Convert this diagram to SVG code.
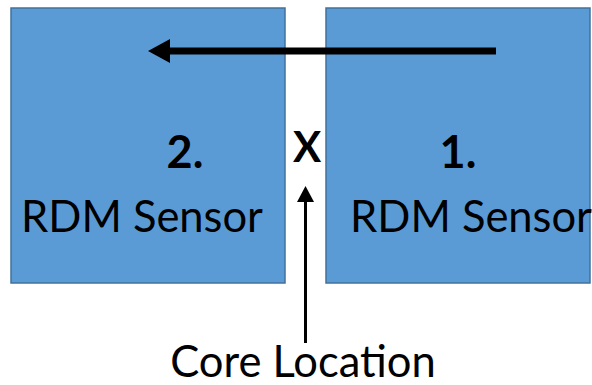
<svg xmlns="http://www.w3.org/2000/svg" width="592" height="385" viewBox="0 0 592 385">
<style>
.box{fill:#5B9BD5;stroke:#41719C;stroke-width:1.5}
.t{font-family:Lato,"Open Sans",sans-serif;fill:#000;text-anchor:middle}
.lbl{font-size:43.5px}
.num{font-size:45px;font-weight:bold}
.x{font-size:42px;font-weight:bold}
.ln{stroke:#000;fill:none}
</style>
<rect width="592" height="385" fill="#fff"/>
<g id="sensor2">
<rect class="box" x="11" y="8" width="274" height="275"/>
<text class="t num" x="185" y="168">2.</text>
<text class="t lbl" x="142" y="232">RDM Sensor</text>
</g>
<g id="sensor1">
<rect class="box" x="326" y="8" width="264" height="275"/>
<text class="t num" x="458" y="168">1.</text>
<text class="t lbl" x="471" y="232">RDM Sensor</text>
</g>
<g id="core">
<text class="t x" x="307" y="162">X</text>
<text class="t lbl" x="303" y="377">Core Location</text>
</g>
<g id="connectors">
<line class="ln" x1="496" y1="51" x2="168" y2="51" stroke-width="7"/>
<polygon points="148,51 170,39 170,63" fill="#000"/>
<line class="ln" x1="305.5" y1="343" x2="305.5" y2="200" stroke-width="3"/>
<polygon points="305.5,186 297,202 314,202" fill="#000"/>
</g>
</svg>
